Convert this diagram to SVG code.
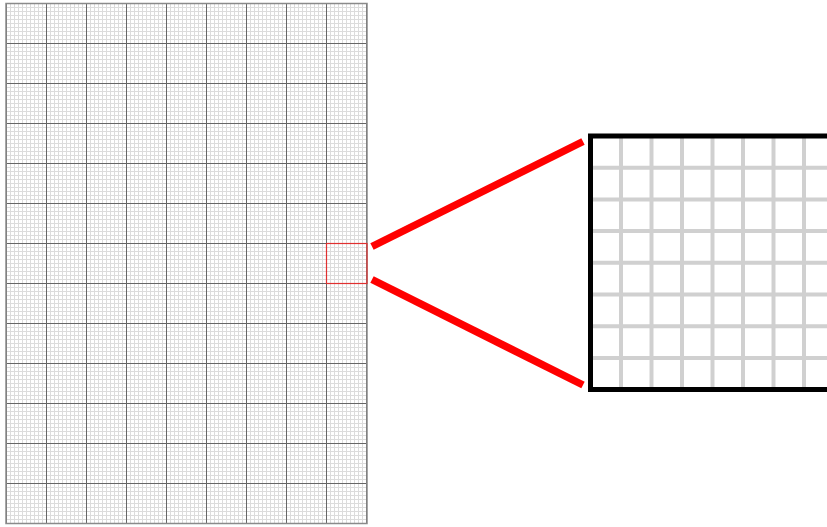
<svg xmlns="http://www.w3.org/2000/svg" width="827" height="527" viewBox="0 0 827 527">
<defs>
<style>
.minor{stroke:#dcdcdc;stroke-width:1;fill:none}
.major{stroke:#666666;stroke-width:1;fill:none}
.zoomline{stroke:#d0d0d0;stroke-width:4;fill:none}
.connector{stroke:#ff0000;stroke-width:7.5;fill:none}
</style>
<pattern id="minorP" x="6" y="3" width="4" height="4" patternUnits="userSpaceOnUse">
<path d="M0.5 0V4M0 0.5H4" class="minor"/>
</pattern>
<pattern id="majorP" x="6" y="3" width="40" height="40" patternUnits="userSpaceOnUse">
<path d="M0.5 0V40M0 0.5H40" class="major"/>
</pattern>
<clipPath id="boxClip"><rect x="590.5" y="136" width="240" height="253.5"/></clipPath>
</defs>
<rect width="827" height="527" fill="#ffffff"/>
<g id="sheet">
<rect x="6" y="3" width="361" height="521" fill="url(#minorP)"/>
<rect x="6" y="3" width="361" height="521" fill="url(#majorP)"/>
<rect x="6" y="3.5" width="361" height="520" fill="none" stroke="#8a8a8a" stroke-width="1.5"/>
</g>
<g id="highlight">
<rect x="326.5" y="243.5" width="40.5" height="40" fill="none" stroke="#e03030" stroke-width="1.2"/>
</g>
<g id="connectors">
<line x1="372" y1="246.5" x2="583" y2="141.5" class="connector"/>
<line x1="372" y1="279.5" x2="583" y2="385" class="connector"/>
</g>
<g id="zoom">
<g clip-path="url(#boxClip)">
<path class="zoomline" d="M621 136V390M651.5 136V390M682 136V390M712.5 136V390M743 136V390M773.5 136V390M804 136V390M590 167.7H830M590 199.4H830M590 231H830M590 262.8H830M590 294.5H830M590 326.2H830M590 358H830"/>
</g>
<rect x="590.5" y="136" width="245" height="253.5" fill="none" stroke="#000000" stroke-width="5"/>
</g>
</svg>
